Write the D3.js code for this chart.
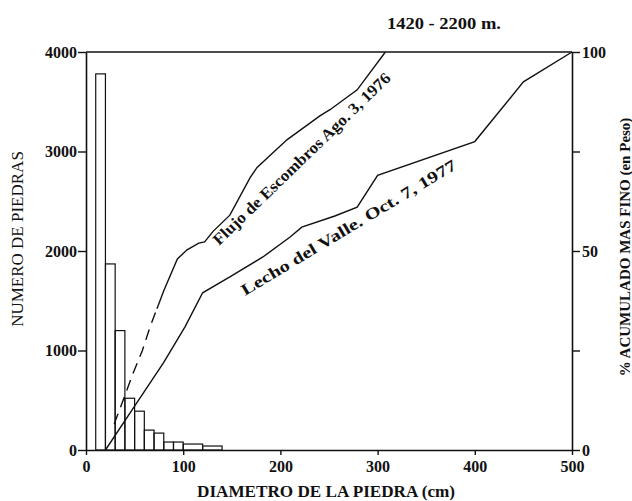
<!DOCTYPE html>
<html>
<head>
<meta charset="utf-8">
<script src="https://cdn.jsdelivr.net/npm/d3@7/dist/d3.min.js"></script>
<style>
  html, body { margin: 0; padding: 0; background: #fff; }
  svg { display: block; }
  text { font-family: "Liberation Serif", "DejaVu Serif", serif; fill: #111; }
</style>
</head>
<body>
<svg id="chart" width="632" height="501"></svg>
<script>
// ---- Data ----
const binLow  = [10, 20, 30, 40, 50, 60, 70, 80, 90, 100, 120];
const binHigh = [20, 30, 40, 50, 60, 70, 80, 90, 100, 120, 140];
const counts  = [3780, 1870, 1200, 520, 390, 200, 170, 80, 80, 60, 40];

const lechoDiam = [20, 50, 80, 102, 120, 148, 182, 210, 222, 256, 279, 300, 400, 450, 500];
const lechoPct  = [0, 11, 22, 31, 39.5, 43.5, 48.5, 53.5, 56, 58.8, 61, 69, 77.5, 92.5, 100];

const flujoDashDiam = [29, 42, 48, 58, 66, 73];
const flujoDashPct  = [6.5, 15, 19, 25, 31, 35.5];
const flujoDiam = [73, 80, 94, 104, 116, 122, 131, 148, 169, 176, 207, 241, 251, 279, 308];
const flujoPct  = [35.5, 40, 48, 50.3, 52, 52.3, 55, 59, 68.5, 71, 78, 84, 85.5, 90.5, 100];

const xTicks = [0, 100, 200, 300, 400, 500];
const yLeftTicks = [0, 1000, 2000, 3000, 4000];
const yRightTicks = [0, 25, 50, 75, 100];
const yRightLabels = [0, 50, 100];

const title = "1420 - 2200 m.";
const xTitle = "DIAMETRO DE LA PIEDRA (cm)";
const yLeftTitle = "NUMERO DE PIEDRAS";
const yRightTitle = "% ACUMULADO MAS FINO (en Peso)";
const flujoLabel = "Flujo de Escombros Ago. 3, 1976";
const lechoLabel = "Lecho del Valle. Oct. 7, 1977";

// ---- Layout ----
const L = 86, R = 572, T = 52, B = 450;
const ink = "#111";

const svg = d3.select("#chart");
const x = d3.scaleLinear().domain([0, 500]).range([L, R]);
const yL = d3.scaleLinear().domain([0, 4000]).range([B, T]);
const yR = d3.scaleLinear().domain([0, 100]).range([B, T]);

// Histogram bars
svg.append("g").selectAll("rect")
  .data(counts.map((c, i) => ({lo: binLow[i], hi: binHigh[i], c})))
  .join("rect")
  .attr("x", d => x(d.lo))
  .attr("width", d => x(d.hi) - x(d.lo))
  .attr("y", d => yL(d.c))
  .attr("height", d => yL(0) - yL(d.c))
  .attr("fill", "none")
  .attr("stroke", ink)
  .attr("stroke-width", 1.2);

// Curves
const line = d3.line().x(d => x(d[0])).y(d => yR(d[1]));
svg.append("path")
  .datum(lechoDiam.map((d, i) => [d, lechoPct[i]]))
  .attr("d", line).attr("fill", "none").attr("stroke", ink).attr("stroke-width", 1.4);
svg.append("path")
  .datum(flujoDashDiam.map((d, i) => [d, flujoDashPct[i]]))
  .attr("d", line).attr("fill", "none").attr("stroke", ink).attr("stroke-width", 1.4)
  .attr("stroke-dasharray", "11,7");
svg.append("path")
  .datum(flujoDiam.map((d, i) => [d, flujoPct[i]]))
  .attr("d", line).attr("fill", "none").attr("stroke", ink).attr("stroke-width", 1.4);

// Axes
function styleAxis(g) {
  g.selectAll("path.domain").attr("stroke", ink).attr("stroke-width", 1.6);
  g.selectAll(".tick line").attr("stroke", ink).attr("stroke-width", 1.4);
  g.selectAll(".tick text")
    .attr("fill", ink)
    .style("font-family", '"Liberation Serif", "DejaVu Serif", serif')
    .style("font-weight", "bold")
    .style("font-size", "16px")
    .style("letter-spacing", "0px");
}

svg.append("g")
  .attr("transform", `translate(${L},0)`)
  .call(d3.axisLeft(yL).tickValues(yLeftTicks).tickSize(8).tickPadding(1).tickSizeOuter(0).tickFormat(d3.format("d")))
  .call(styleAxis);

svg.append("g")
  .attr("transform", `translate(0,${B})`)
  .call(d3.axisBottom(x).tickValues(xTicks).tickSize(5).tickPadding(6).tickSizeOuter(0).tickFormat(d3.format("d")))
  .call(styleAxis);

svg.append("g")
  .attr("transform", `translate(${R},0)`)
  .call(d3.axisRight(yR).tickValues(yRightTicks).tickSize(8).tickPadding(2).tickSizeOuter(0)
    .tickFormat(d => yRightLabels.includes(d) ? String(d) : ""))
  .call(styleAxis);

// Top border
svg.append("line")
  .attr("x1", L).attr("x2", R).attr("y1", T).attr("y2", T)
  .attr("stroke", ink).attr("stroke-width", 1.6);

// Titles
svg.append("text")
  .attr("x", 387).attr("y", 29)
  .attr("textLength", 114).attr("lengthAdjust", "spacingAndGlyphs")
  .style("font-weight", "bold").style("font-size", "17px")
  .text(title);

svg.append("text")
  .attr("x", 197).attr("y", 497)
  .attr("textLength", 258).attr("lengthAdjust", "spacingAndGlyphs")
  .style("font-weight", "bold").style("font-size", "16px")
  .text(xTitle);

svg.append("text")
  .attr("transform", "translate(23,239) rotate(-90)")
  .attr("text-anchor", "middle")
  .style("font-size", "17px")
  .text(yLeftTitle);

svg.append("text")
  .attr("transform", "translate(630,247) rotate(-90)")
  .attr("text-anchor", "middle")
  .style("font-weight", "bold").style("font-size", "15px")
  .text(yRightTitle);

// Curve labels
svg.append("text")
  .attr("transform", "translate(219,246) rotate(-44)")
  .attr("textLength", 240).attr("lengthAdjust", "spacingAndGlyphs")
  .style("font-weight", "bold").style("font-size", "16px")
  .text(flujoLabel);

svg.append("text")
  .attr("transform", "translate(245,296) rotate(-31)")
  .attr("textLength", 248).attr("lengthAdjust", "spacingAndGlyphs")
  .style("font-weight", "bold").style("font-size", "16px")
  .text(lechoLabel);
</script>
</body>
</html>
